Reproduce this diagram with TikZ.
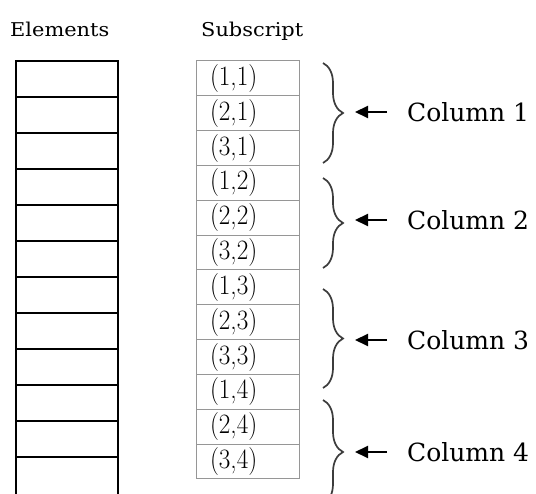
\documentclass[tikz,border=0pt]{standalone}
\usepackage{fontspec}
\usepackage{graphicx}
\newfontfamily\labelfont{DejaVu Serif}
\usetikzlibrary{decorations.pathreplacing,arrows.meta}
\definecolor{cellgray}{RGB}{150,150,150}
\definecolor{bracegray}{RGB}{60,60,60}
\tikzset{
  elemcell/.style={draw=black, line width=1.6pt, minimum width=102pt, minimum height=36pt, inner sep=0pt, outer sep=0pt, anchor=north west},
  subcell/.style={draw=cellgray, line width=1pt, minimum width=103pt, minimum height=34.83pt, text width=75pt, inner xsep=14pt, inner ysep=0pt, outer sep=0pt, align=left, anchor=north west, font=\fontsize{28}{28}\selectfont},
  heading/.style={anchor=base west, inner sep=0pt, font=\labelfont\fontsize{19}{19}\selectfont},
  collabel/.style={anchor=west, inner sep=0pt, font=\labelfont\fontsize{25}{25}\selectfont},
  bracepath/.style={draw=bracegray, line width=1.7pt, decorate, decoration={brace, amplitude=20pt}},
  arr/.style={draw=black, line width=2pt, -{Triangle[length=13pt,width=12pt]}}
}
\begin{document}
\begin{tikzpicture}[x=1pt,y=-1pt]
\useasboundingbox (0,0) rectangle (536,494);
\clip (0,0) rectangle (536,494);
\fill[white] (0,0) rectangle (536,494);
% headings
\node[heading] (hElem) at (10,37) {\scalebox{1.1}[1]{Elements}};
\node[heading] (hSub) at (201,37) {\scalebox{1.1}[1]{Subscript}};
% element column
\foreach \k in {0,...,10}{
  \node[elemcell] (e\k) at (16,{61+36*\k}) {};
}
\node[elemcell, minimum height=44pt] (e11) at (16,457) {};
% subscript column
\foreach \k/\t in {0/{(1,1)},1/{(2,1)},2/{(3,1)},3/{(1,2)},4/{(2,2)},5/{(3,2)},6/{(1,3)},7/{(2,3)},8/{(3,3)},9/{(1,4)},10/{(2,4)},11/{(3,4)}}{
  \node[subcell] (s\k) at (196,{61+34.83*\k}) {\scalebox{0.9}[1]{\t}};
}
% braces
\draw[bracepath] (323,63) -- (323,163);
\draw[bracepath] (323,178) -- (323,268);
\draw[bracepath] (323,289) -- (323,388);
\draw[bracepath] (323,400) -- (323,504);
\coordinate (t1) at (343,113);
\coordinate (t2) at (343,221);
\coordinate (t3) at (343,339);
\coordinate (t4) at (343,452);
% labels
\node[collabel] (c1) at (407,112) {Column 1};
\node[collabel] (c2) at (407,220) {Column 2};
\node[collabel] (c3) at (407,340) {Column 3};
\node[collabel] (c4) at (407,452) {Column 4};
% arrows
\foreach \i in {1,2,3,4}{
  \draw[arr] ([xshift=-20pt]c\i.west) -- ([xshift=12pt]c\i.west -| t\i);
}
\end{tikzpicture}
\end{document}
